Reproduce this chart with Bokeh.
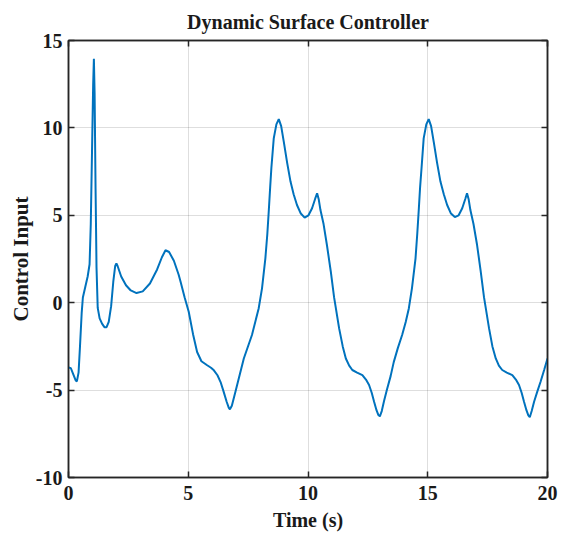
from bokeh.plotting import figure
from bokeh.models import Range1d, LinearAxis, FixedTicker, CustomJSTickFormatter
from bokeh.embed import file_html
from bokeh.resources import INLINE

# Data
time_s = [
    0.00, 0.10, 0.20, 0.30, 0.35, 0.42, 0.48, 0.55, 0.60, 0.70, 0.80, 0.88,
    0.93, 0.98, 1.03, 1.06, 1.09, 1.13, 1.17, 1.22, 1.30, 1.40, 1.50, 1.59,
    1.68, 1.78, 1.87, 1.95, 2.00, 2.05, 2.20, 2.40, 2.60, 2.84, 3.10, 3.40,
    3.70, 3.90, 4.05, 4.20, 4.40, 4.60, 4.68, 4.85, 5.02, 5.20, 5.37, 5.55,
    5.79, 5.95, 6.07, 6.22, 6.35, 6.48, 6.60, 6.69, 6.74, 6.82, 6.97, 7.32,
    7.66, 7.94, 8.08, 8.22, 8.30, 8.36, 8.42, 8.47, 8.57, 8.68, 8.78, 8.88,
    8.99, 9.13, 9.27, 9.40, 9.54, 9.70, 9.86, 10.02, 10.17, 10.30, 10.38, 10.45,
    10.52, 10.65, 10.79, 10.95, 11.09, 11.30, 11.45, 11.58, 11.72, 11.85, 12.05, 12.27,
    12.42, 12.55, 12.66, 12.76, 12.86, 12.94, 13.00, 13.08, 13.18, 13.30, 13.45, 13.58,
    13.75, 13.93, 14.08, 14.21, 14.34, 14.49, 14.56, 14.62, 14.68, 14.74, 14.83, 14.94,
    15.04, 15.14, 15.25, 15.39, 15.53, 15.67, 15.81, 15.97, 16.13, 16.29, 16.44, 16.57,
    16.64, 16.71, 16.78, 16.91, 17.06, 17.21, 17.35, 17.56, 17.70, 17.84, 17.97, 18.11,
    18.30, 18.53, 18.68, 18.81, 18.92, 19.02, 19.12, 19.20, 19.26, 19.34, 19.44, 19.57,
    19.71, 19.86, 20.00,
]
control_input = [
    -3.70, -3.75, -4.10, -4.45, -4.50, -4.00, -2.50, -0.60, 0.30, 0.90, 1.50, 2.20,
    4.50, 8.50, 12.50, 13.95, 12.00, 6.50, 2.00, -0.30, -0.90, -1.20, -1.40, -1.40,
    -1.10, -0.20, 1.20, 2.10, 2.25, 2.10, 1.50, 1.00, 0.70, 0.55, 0.65, 1.10,
    1.90, 2.60, 3.00, 2.90, 2.40, 1.60, 1.20, 0.30, -0.52, -1.80, -2.82, -3.35,
    -3.58, -3.72, -3.87, -4.15, -4.54, -5.10, -5.65, -6.00, -6.10, -5.90, -5.10, -3.19,
    -1.85, -0.33, 0.82, 2.54, 3.90, 5.20, 6.60, 7.69, 9.40, 10.20, 10.50, 10.10,
    9.20, 8.00, 6.93, 6.20, 5.59, 5.10, 4.87, 5.00, 5.40, 5.95, 6.26, 5.90,
    5.30, 4.50, 3.30, 1.80, 0.30, -1.47, -2.50, -3.19, -3.60, -3.85, -4.00, -4.14,
    -4.40, -4.71, -5.15, -5.67, -6.15, -6.43, -6.50, -6.20, -5.60, -4.95, -4.20, -3.40,
    -2.60, -1.85, -1.10, -0.33, 0.82, 2.54, 3.90, 5.20, 6.60, 7.69, 9.40, 10.20,
    10.50, 10.10, 9.20, 8.00, 6.93, 6.20, 5.59, 5.10, 4.90, 5.00, 5.40, 5.95,
    6.26, 5.90, 5.30, 4.50, 3.30, 1.80, 0.30, -1.47, -2.50, -3.19, -3.60, -3.85,
    -4.00, -4.14, -4.40, -4.71, -5.15, -5.67, -6.15, -6.45, -6.55, -6.20, -5.67, -5.10,
    -4.52, -3.85, -3.19,
]
x_ticks = [0, 5, 10, 15, 20]
y_ticks = [-10, -5, 0, 5, 10, 15]
x_tick_labels = ["0", "5", "10", "15", "20"]
y_tick_labels = ["-10", "-5", "0", "5", "10", "15"]

FONT = "Liberation Serif"
AX = "#262626"
TXT = "#1a1a1a"

p = figure(width=569, height=538, x_range=Range1d(0, 20), y_range=Range1d(-10, 15),
           output_backend="svg", toolbar_location=None,
           min_border_left=68, min_border_right=22, min_border_top=40, min_border_bottom=61)

p.line(time_s, control_input, line_color="#0072BD", line_width=2)

p.title.text = "Dynamic Surface Controller"
p.title.align = "center"
p.title.text_font = FONT
p.title.text_font_size = "20px"
p.title.text_font_style = "bold"
p.title.text_color = TXT
p.title.standoff = 16

def style_axis(ax, ticks, labels=None):
    ax.ticker = FixedTicker(ticks=ticks)
    ax.major_tick_in = 6
    ax.major_tick_out = 0
    ax.minor_tick_line_color = None
    ax.axis_line_color = AX
    ax.axis_line_width = 1.5
    ax.major_tick_line_color = AX
    ax.major_tick_line_width = 1.5
    ax.major_label_text_font = FONT
    ax.major_label_text_font_size = "20px"
    ax.major_label_text_font_style = "bold"
    ax.major_label_text_color = TXT
    ax.axis_label_text_font = FONT
    ax.axis_label_text_font_size = "20px"
    ax.axis_label_text_font_style = "bold"
    ax.axis_label_text_color = TXT
    if labels is None:
        ax.formatter = CustomJSTickFormatter(code="return ''")
    else:
        ax.major_label_overrides = {t: s for t, s in zip(ticks, labels)}

style_axis(p.xaxis[0], x_ticks, x_tick_labels)
style_axis(p.yaxis[0], y_ticks, y_tick_labels)
p.xaxis[0].axis_label = "Time (s)"
p.yaxis[0].axis_label = "Control Input"
p.yaxis[0].axis_label_text_font_size = "21px"
p.xaxis[0].major_label_standoff = 8
p.yaxis[0].major_label_standoff = 6
p.xaxis[0].axis_label_standoff = 6
p.yaxis[0].axis_label_standoff = 0

top_ax = LinearAxis()
right_ax = LinearAxis()
style_axis(top_ax, x_ticks)
style_axis(right_ax, y_ticks)
p.add_layout(top_ax, "above")
p.add_layout(right_ax, "right")

p.xgrid.ticker = FixedTicker(ticks=x_ticks)
p.ygrid.ticker = FixedTicker(ticks=y_ticks)
p.grid.grid_line_color = "#000000"
p.grid.grid_line_alpha = 0.13
p.grid.grid_line_width = 1

p.outline_line_color = AX
p.outline_line_width = 1.5
p.background_fill_color = "white"
p.border_fill_color = "white"

open("out.html", "w").write(file_html(p, INLINE))
